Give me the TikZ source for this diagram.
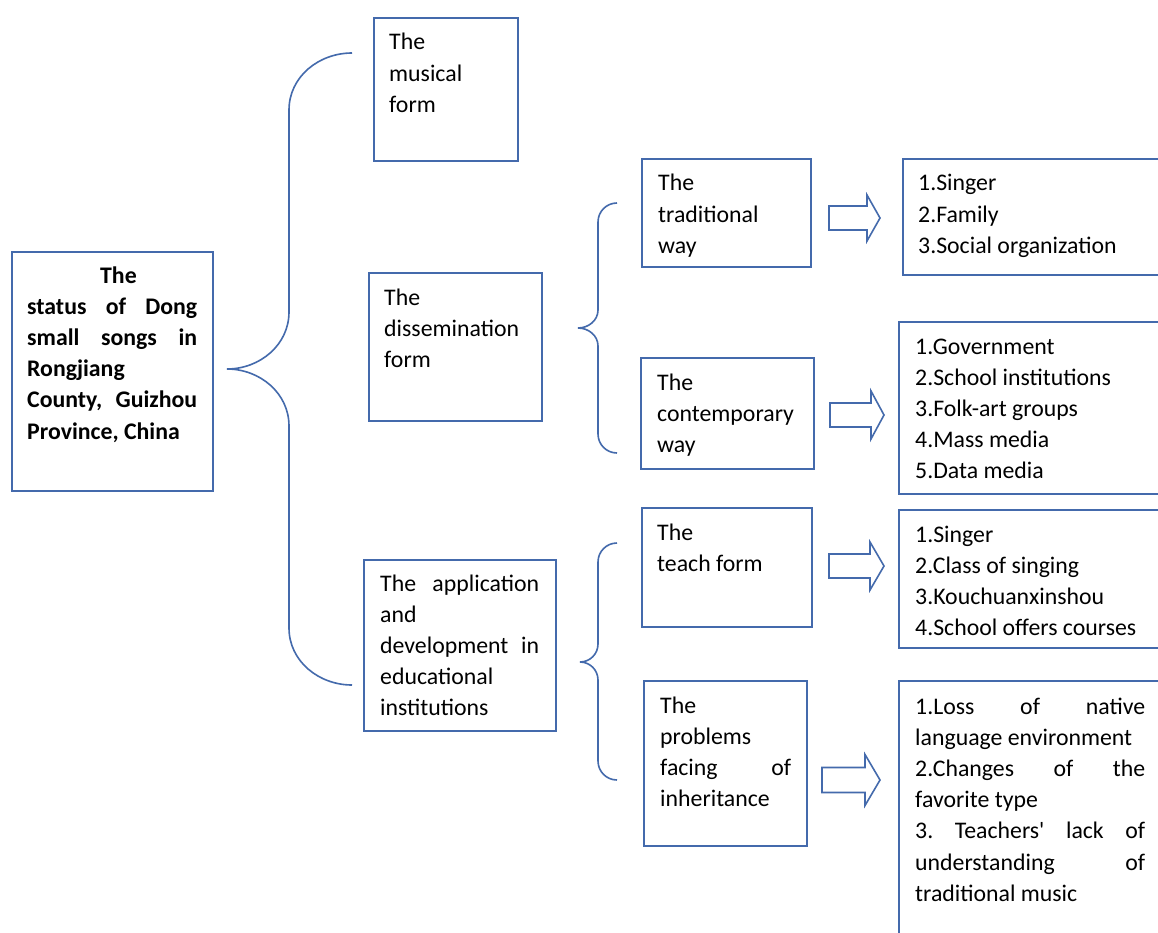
\documentclass[tikz,border=0pt]{standalone}
\usepackage{fontspec}
\setmainfont{Carlito}
\definecolor{bl}{RGB}{68,106,172}
\tikzset{
  box/.style={draw=bl, line width=1.6pt, inner sep=0pt, anchor=north west, rectangle},
  txt/.style={anchor=base west, inner sep=0pt, text=black},
  br/.style={draw=bl, line width=1.6pt},
  barrow/.style={draw=bl, line width=1.6pt, fill=white, line join=miter}
}
\frenchspacing
\newcommand\tx[2]{\parbox[t]{#1pt}{\fontsize{23.8}{31.2}\selectfont\frenchspacing #2}}
\newcommand\jl[1]{\makebox[\linewidth][s]{#1}}
\newcommand\barr[6]{% x0, xh, x1, yc, shaft half, head half
  \draw[barrow] (#1,#4-#5) -- (#2,#4-#5) -- (#2,#4-#6) -- (#3,#4) -- (#2,#4+#6) -- (#2,#4+#5) -- (#1,#4+#5) -- cycle;}
\begin{document}
\begin{tikzpicture}[x=1pt,y=-1pt]
\useasboundingbox (0,0) rectangle (1158,933);
\clip (0,0) rectangle (1158,933);
\fill[white] (0,0) rectangle (1158,933);

% boxes
\node[box, minimum width=201pt, minimum height=239pt] (root) at (11,251) {};
\node[box, minimum width=144pt, minimum height=143pt] (mus) at (373,17) {};
\node[box, minimum width=173pt, minimum height=148pt] (dis) at (368,272) {};
\node[box, minimum width=192pt, minimum height=171pt] (app) at (363,559) {};
\node[box, minimum width=169pt, minimum height=108pt] (trad) at (641,158) {};
\node[box, minimum width=173pt, minimum height=111pt] (cont) at (640,357) {};
\node[box, minimum width=170pt, minimum height=119pt] (teach) at (641,507) {};
\node[box, minimum width=163pt, minimum height=165pt] (prob) at (643,680) {};
\node[box, minimum width=300pt, minimum height=116pt] (r1) at (902,158) {};
\node[box, minimum width=300pt, minimum height=172pt] (r2) at (898,321) {};
\node[box, minimum width=300pt, minimum height=138pt] (r3) at (898,509) {};
\node[box, minimum width=300pt, minimum height=300pt] (r4) at (898,680) {};

% texts
\node[txt] (troot) at (27,283) {\tx{170}{\bfseries\hspace*{73pt}The\\
  \jl{status of Dong}\\ \jl{small songs in}\\ Rongjiang\\ \jl{County, Guizhou}\\ Province, China}};
\node[txt] (tmus) at (389,50) {\tx{200}{The\\ musical\\ form}};
\node[txt] (tdis) at (384,305) {\tx{200}{The\\ dissemination\\ form}};
\node[txt] (tapp) at (380,591) {\tx{159}{\jl{The application}\\ and\\ \jl{development in}\\ educational\\ institutions}};
\node[txt] (ttrad) at (658,191) {\tx{200}{The\\ traditional\\ way}};
\node[txt] (tcont) at (657,390) {\tx{200}{The\\ contemporary\\ way}};
\node[txt] (tteach) at (657,540) {\tx{200}{The\\ teach form}};
\node[txt] (tprob) at (660,713) {\tx{131}{The\\ problems\\ \jl{facing of}\\ inheritance}};
\node[txt] (tr1) at (918,191) {\tx{260}{1.Singer\\ 2.Family\\ 3.Social organization}};
\node[txt] (tr2) at (915,354) {\tx{260}{1.Government\\ 2.School institutions\\ 3.Folk-art groups\\ 4.Mass media\\ 5.Data media}};
\node[txt] (tr3) at (915,542) {\tx{260}{1.Singer\\ 2.Class of singing\\ 3.Kouchuanxinshou\\ 4.School offers courses}};
\node[txt] (tr4) at (915,714) {\tx{230}{\jl{1.Loss of native}\\ language environment\\ \jl{2.Changes of the}\\ favorite type\\
  \jl{3. Teachers\textquotesingle{} lack of}\\ \jl{understanding of}\\ traditional music}};

% big brace
\coordinate (bA) at (352,53);
\coordinate (bTip) at (227,369);
\coordinate (bB) at (352,685);
\draw[br] (bA) to[out=180,in=90] (289,110) -- (289,312) to[out=-90,in=0] (bTip)
  to[out=0,in=90] (289,426) -- (289,628) to[out=-90,in=180] (bB);

% brace 2
\coordinate (cA) at (617,203);
\coordinate (cTip) at (578,328);
\coordinate (cB) at (617,453);
\draw[br] (cA) to[out=180,in=90] (598,222) -- (598,310) to[out=-90,in=0] (cTip)
  to[out=0,in=90] (598,346) -- (598,434) to[out=-90,in=180] (cB);

% brace 3
\coordinate (dA) at (617,543);
\coordinate (dTip) at (580,662);
\coordinate (dB) at (617,780);
\draw[br] (dA) to[out=180,in=90] (598,562) -- (598,644) to[out=-90,in=0] (dTip)
  to[out=0,in=90] (598,680) -- (598,761) to[out=-90,in=180] (dB);

% block arrows
\barr{829}{867}{880}{218}{12}{23}
\barr{830}{871}{884}{415}{12}{24}
\barr{829}{870}{884}{566}{12}{24}
\barr{822}{865}{880}{780}{12.5}{25.5}
\end{tikzpicture}
\end{document}
